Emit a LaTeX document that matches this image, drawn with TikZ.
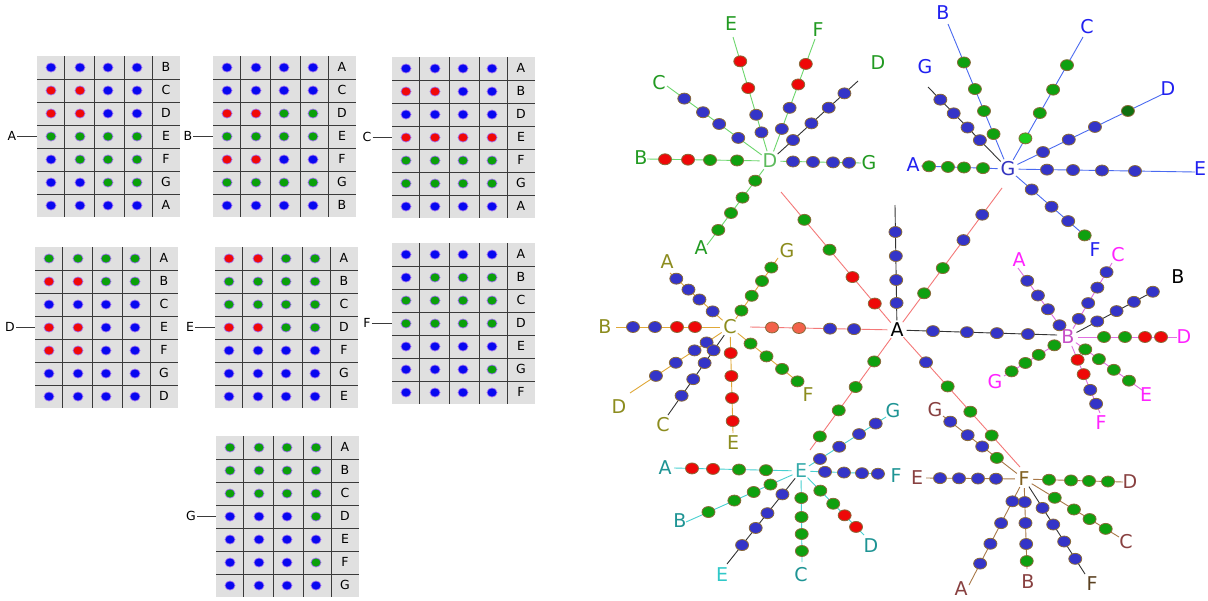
\documentclass[tikz,border=0pt]{standalone}
\usepackage{fontspec}
\setmainfont{DejaVu Sans}
\usetikzlibrary{shapes.geometric,calc}
\pgfdeclarelayer{back}
\pgfdeclarelayer{bg}
\pgfsetlayers{back,bg,main}

\definecolor{cB}{HTML}{3434C8}
\definecolor{cG}{HTML}{0FA00F}
\definecolor{cR}{HTML}{EE0808}
\definecolor{cS}{HTML}{F2624A}
\definecolor{cLG}{HTML}{1ECC1E}
\definecolor{cDG}{HTML}{107010}
\definecolor{lB}{HTML}{0808F0}
\definecolor{lG}{HTML}{0AA00A}
\definecolor{lR}{HTML}{F00808}
\definecolor{rdotline}{HTML}{8A6A3A}
\definecolor{ldotline}{HTML}{A070F0}
\definecolor{gridgray}{HTML}{E0E0E0}
\definecolor{gridline}{HTML}{3A3A3A}
\definecolor{lnRc}{HTML}{F47878}
\definecolor{lnDc}{HTML}{6CD66C}
\definecolor{lnGc}{HTML}{4A6AF0}
\definecolor{lnCc}{HTML}{E0A838}
\definecolor{lnBc}{HTML}{E070E0}
\definecolor{lnEc}{HTML}{48D0D0}
\definecolor{lnFc}{HTML}{A87848}
\definecolor{lnKc}{HTML}{333333}
\definecolor{tD}{HTML}{229A22}
\definecolor{thD}{HTML}{5DBB5D}
\definecolor{tG}{HTML}{2020F0}
\definecolor{thG}{HTML}{3535C0}
\definecolor{tC}{HTML}{8C8C1E}
\definecolor{tB}{HTML}{FF22FF}
\definecolor{thB}{HTML}{C850C8}
\definecolor{tE}{HTML}{1E9494}
\definecolor{tEE}{HTML}{30C8C8}
\definecolor{thE}{HTML}{35AAAA}
\definecolor{tF}{HTML}{884040}
\definecolor{tFF}{HTML}{5A4020}
\definecolor{thF}{HTML}{806020}

\newcommand\myray[5]{%
  \coordinate (#1e) at (#3);
  \begin{pgfonlayer}{bg}\draw[#4] (#2) -- (#1e);\end{pgfonlayer}
  \foreach \x/\y/\cc [count=\i] in {#5}{\node[rdot,fill=\cc] (#1d\i) at ($(#2)!(\x,\y)!(#1e)$) {};}%
}

\newcommand\mygrid[5]{%
  \node[gridbg,anchor=north west] (#1) at (#2,#3) {};
  \foreach \cx in {27,57,87,115}{\draw[gl] (#2+\cx,#3) -- (#2+\cx,#3+161);}
  \foreach \ry in {23,46,69,92,115,138}{\draw[gl] (#2,#3+\ry) -- (#2+143,#3+\ry);}
  \foreach \lt/\pa/\pb/\pc/\pd [count=\r] in {#5}{%
    \pgfmathsetmacro\yy{#3+11.5+23*(\r-1)}%
    \node[ldot,fill=\pa] (#1-\r-a) at (#2+14,\yy) {};
    \node[ldot,fill=\pb] (#1-\r-b) at (#2+43,\yy) {};
    \node[ldot,fill=\pc] (#1-\r-c) at (#2+71,\yy) {};
    \node[ldot,fill=\pd] (#1-\r-d) at (#2+100,\yy) {};
    \node[glab] (#1-\r-l) at (#2+129,\yy-1) {\lt};
  }
  \node[glab] (#1lab) at (#2-25,#3+80) {#4};
  \draw[gl] (#1lab.east) -- (#1lab.east -| #1.west);
}

\begin{document}
\begin{tikzpicture}[x=1pt,y=-1pt,
  rdot/.style={ellipse,draw=rdotline,line width=0.8pt,minimum width=13pt,minimum height=11pt,inner sep=0pt},
  ldot/.style={ellipse,draw=ldotline,line width=0.7pt,minimum width=10pt,minimum height=9pt,inner sep=0pt},
  hub/.style={circle,inner sep=0pt,font=\fontsize{19}{19}\selectfont},
  lab/.style={inner sep=0pt,font=\fontsize{19}{19}\selectfont},
  glab/.style={inner sep=1pt,font=\fontsize{12.5}{12.5}\selectfont},
  gridbg/.style={fill=gridgray,draw=none,minimum width=143pt,minimum height=161pt,inner sep=0pt},
  gl/.style={draw=gridline,line width=0.8pt},
  lnR/.style={draw=lnRc,line width=0.9pt},
  lnD/.style={draw=lnDc,line width=0.9pt},
  lnG/.style={draw=lnGc,line width=0.9pt},
  lnC/.style={draw=lnCc,line width=0.9pt},
  lnB/.style={draw=lnBc,line width=0.9pt},
  lnE/.style={draw=lnEc,line width=0.9pt},
  lnF/.style={draw=lnFc,line width=0.9pt},
  lnK/.style={draw=lnKc,line width=0.9pt}]
\useasboundingbox (0,0) rectangle (1208,600);
\begin{pgfonlayer}{back}\fill[white] (0,0) rectangle (1208,600);\end{pgfonlayer}

% ---------- grids ----------
\mygrid{gA}{37}{56}{A}{B/lB/lB/lB/lB, C/lR/lR/lB/lB, D/lR/lR/lB/lB, E/lG/lG/lG/lG, F/lB/lG/lG/lG, G/lB/lB/lG/lG, A/lB/lB/lB/lB}
\mygrid{gB}{213}{56}{B}{A/lB/lB/lB/lB, C/lB/lB/lB/lB, D/lR/lR/lG/lG, E/lG/lG/lG/lG, F/lR/lR/lB/lB, G/lG/lG/lG/lG, B/lB/lB/lB/lB}
\mygrid{gC}{392}{57}{C}{A/lB/lB/lB/lB, B/lR/lR/lB/lB, D/lB/lB/lB/lB, E/lR/lR/lR/lR, F/lG/lG/lG/lG, G/lG/lG/lG/lG, A/lB/lB/lB/lB}
\mygrid{gD}{35}{247}{D}{A/lG/lG/lG/lG, B/lR/lR/lG/lG, C/lB/lB/lB/lB, E/lR/lR/lB/lB, F/lR/lR/lB/lB, G/lB/lB/lB/lB, D/lB/lB/lB/lB}
\mygrid{gE}{215}{247}{E}{A/lR/lR/lG/lG, B/lG/lG/lG/lG, C/lG/lG/lG/lG, D/lR/lR/lG/lG, F/lB/lB/lB/lB, G/lB/lB/lB/lB, E/lB/lB/lB/lB}
\mygrid{gF}{392}{243}{F}{A/lB/lB/lB/lB, B/lB/lG/lG/lG, C/lG/lG/lG/lG, D/lG/lG/lG/lG, E/lB/lB/lB/lB, G/lB/lB/lB/lG, F/lB/lB/lB/lB}
\mygrid{gG}{216}{436}{G}{A/lG/lG/lG/lG, B/lG/lG/lG/lG, C/lG/lG/lG/lG, D/lB/lB/lB/lG, E/lB/lB/lB/lB, F/lB/lB/lB/lG, G/lB/lB/lB/lB}

% ---------- hubs ----------
\node[hub,text=black] (hA) at (897,330) {A};
\node[hub,text=thD] (hD) at (770,161) {D};
\node[hub,text=thG] (hG) at (1008,169) {G};
\node[hub,text=tC] (hC) at (730,327) {C};
\node[hub,text=thB] (hB) at (1068,337) {B};
\node[hub,text=thE] (hE) at (801,471) {E};
\node[hub,text=thF] (hF) at (1024,479) {F};

% ---------- spokes from A ----------
\myray{AA}{hA}{895,205}{lnK}{895/232/cB,895/256/cB,895/280/cB,895/303/cB}
\myray{AD}{hA}{781,192}{lnR}{803/221/cG,828/251/cG,849/280/cR,873/305/cR}
\myray{AG}{hA}{1002,188}{lnR}{980/213/cB,962/239/cB,940/266/cG,921/291/cG}
\myray{AC}{hA}{750,327}{lnR}{772/327/cS,799/328/cS,830/328/cB,854/329/cB}
\myray{AB}{hA}{1057,335}{lnK}{933/329/cB,967/330/cB,997/331/cB,1028/332/cB}
\myray{AE}{hA}{810,450}{lnR}{875/362/cG,857/388/cG,841/412/cG,822/438/cG}
\myray{AF}{hA}{1020,467}{lnR}{923/365/cB,947/387/cG,970/412/cG,990/437/cG}

% ---------- D ----------
\myray{DE}{hD}{733,37}{lnD}{738/62/cR,745/89/cR,752/116/cB,756/134/cB}
\myray{DF}{hD}{815,39}{lnD}{806/64/cR,797/84/cR,790/108/cB,782/129/cB}
\myray{DD}{hD}{858,81}{lnK}{845/94/cB,829/108/cB,812/124/cB,793/140/cB}
\myray{DC}{hD}{667,86}{lnD}{684/99/cB,701/115/cB,717/127/cB,736/141/cB}
\myray{DB}{hD}{647,159}{lnD}{665/160/cR,688/161/cR,710/162/cG,737/164/cG}
\myray{DG}{hD}{861,163}{lnD}{793/162/cB,813/162/cB,833/163/cB,849/164/cB}
\myray{DA}{hD}{707,245}{lnD}{717/229/cG,731/213/cG,743/198/cG,757/182/cG}
\node[lab,text=tD] (lDE) at (731,24) {E};
\node[lab,text=tD] (lDF) at (818,30) {F};
\node[lab,text=tD] (lDD) at (878,63) {D};
\node[lab,text=tD] (lDC) at (659,83) {C};
\node[lab,text=tD] (lDB) at (641,158) {B};
\node[lab,text=tD] (lDG) at (869,163) {G};
\node[lab,text=tD] (lDA) at (701,248) {A};

% ---------- G ----------
\myray{GB}{hG}{948,24}{lnG}{965/62/cG,975/89/cG,984/111/cG,996/133/cG}
\myray{GG}{hG}{928,87}{lnK}{941/99/cB,953/114/cB,967/128/cB,978/142/cB}
\myray{GC}{hG}{1083,37}{lnG}{1065/64/cG,1052/89/cG,1038/112/cG,1023/137/cLG}
\myray{GD}{hG}{1163,94}{lnG}{1127/109/cDG,1095/127/cB,1069/140/cB,1043/152/cB}
\myray{GE}{hG}{1195,172}{lnG}{1047/170/cB,1073/171/cB,1102/171/cB,1135/172/cB}
\myray{GA}{hG}{921,166}{lnG}{929/166/cG,948/166/cG,964/167/cG,983/167/cG}
\myray{GF}{hG}{1090,240}{lnG}{1033/188/cB,1053/205/cB,1070/219/cB,1085/235/cG}
\node[lab,text=tG] (lGB) at (943,13) {B};
\node[lab,text=tG] (lGG) at (925,67) {G};
\node[lab,text=tG] (lGC) at (1087,27) {C};
\node[lab,text=tG] (lGD) at (1168,89) {D};
\node[lab,text=tG] (lGE) at (1200,169) {E};
\node[lab,text=tG] (lGA) at (913,165) {A};
\node[lab,text=tG] (lGF) at (1095,250) {F};

% ---------- C ----------
\myray{CA}{hC}{670,273}{lnC}{676/279/cB,689/289/cB,699/300/cB,713/311/cB}
\myray{CG}{hC}{778,258}{lnC}{772/268/cG,762/281/cG,752/296/cG,742/311/cG}
\myray{CB}{hC}{616,327}{lnC}{633/327/cB,655/327/cB,677/327/cR,695/328/cR}
\myray{CD}{hC}{630,393}{lnC}{656/376/cB,676/363/cB,693/348/cB,705/340/cB}
\myray{CC}{hC}{668,415}{lnK}{682/396/cB,693/379/cB,706/364/cB,716/352/cB}
\myray{CE}{hC}{733,433}{lnC}{733/353/cR,733/376/cR,733/398/cR,734/421/cR}
\myray{CF}{hC}{802,385}{lnC}{751/343/cG,766/357/cG,782/369/cG,797/382/cG}
\node[lab,text=tC] (lCA) at (667,262) {A};
\node[lab,text=tC] (lCG) at (787,251) {G};
\node[lab,text=tC] (lCB) at (605,327) {B};
\node[lab,text=tC] (lCD) at (619,407) {D};
\node[lab,text=tC] (lCC) at (663,425) {C};
\node[lab,text=tC] (lCE) at (733,443) {E};
\node[lab,text=tC] (lCF) at (808,395) {F};

% ---------- B ----------
\myray{BA}{hB}{1018,268}{lnB}{1027/281/cB,1040/294/cB,1051/307/cB,1064/322/cB}
\myray{BC}{hB}{1112,263}{lnB}{1108/273/cB,1098/288/cB,1088/303/cB,1079/319/cB}
\myray{BB}{hB}{1158,289}{lnK}{1153/292/cB,1134/302/cB,1116/310/cB,1097/321/cB}
\myray{BD}{hB}{1177,337}{lnB}{1104/337/cG,1125/337/cG,1145/337/cR,1161/338/cR}
\myray{BE}{hB}{1142,390}{lnB}{1087/347/cG,1099/359/cG,1113/371/cG,1128/382/cG}
\myray{BF}{hB}{1100,413}{lnB}{1077/360/cR,1084/374/cR,1090/390/cB,1098/403/cB}
\myray{BG}{hB}{1004,376}{lnB}{1012/372/cG,1026/364/cG,1040/357/cG,1056/348/cG}
\node[lab,text=tB] (lBA) at (1019,260) {A};
\node[lab,text=tB] (lBC) at (1118,255) {C};
\node[lab,text=black] (lBB) at (1178,277) {B};
\node[lab,text=tB] (lBD) at (1184,337) {D};
\node[lab,text=tB] (lBE) at (1146,395) {E};
\node[lab,text=tB] (lBF) at (1101,423) {F};
\node[lab,text=tB] (lBG) at (995,382) {G};

% ---------- E ----------
\myray{EA}{hE}{674,468}{lnE}{692/468/cR,713/468/cR,739/469/cG,766/470/cG}
\myray{EG}{hE}{886,417}{lnE}{876/424/cB,859/434/cB,840/448/cB,820/459/cB}
\myray{EF}{hE}{885,474}{lnE}{825/472/cB,844/472/cB,862/473/cB,878/473/cB}
\myray{EB}{hE}{686,522}{lnE}{708/511/cG,735/502/cG,755/495/cG,772/488/cG}
\myray{EE}{hE}{727,564}{lnK}{742/545/cB,757/529/cB,771/516/cB,787/498/cB}
\myray{EC}{hE}{802,562}{lnE}{803/498/cG,803/517/cG,802/534/cG,802/551/cG}
\myray{ED}{hE}{864,535}{lnE}{823/488/cG,835/502/cG,846/514/cR,857/526/cR}
\node[lab,text=tE] (lEA) at (665,468) {A};
\node[lab,text=tE] (lEG) at (893,411) {G};
\node[lab,text=tE] (lEF) at (896,476) {F};
\node[lab,text=tE] (lEB) at (680,521) {B};
\node[lab,text=tEE] (lEE) at (722,575) {E};
\node[lab,text=tE] (lEC) at (801,575) {C};
\node[lab,text=tE] (lED) at (871,546) {D};

% ---------- F ----------
\myray{FG}{hF}{943,416}{lnF}{950/422/cB,967/436/cB,981/448/cB,996/459/cG}
\myray{FE}{hF}{926,478}{lnF}{940/479/cB,959/478/cB,978/479/cB,996/479/cB}
\myray{FD}{hF}{1123,482}{lnF}{1049/480/cG,1071/480/cG,1089/481/cG,1108/482/cG}
\myray{FC}{hF}{1119,537}{lnF}{1054/499/cG,1073/511/cG,1089/520/cG,1105/530/cG}
\myray{FF}{hF}{1085,574}{lnK}{1044/507/cB,1054/524/cB,1065/541/cB,1075/559/cB}
\myray{FB}{hF}{1027,569}{lnF}{1026/502/cB,1026/523/cB,1026/544/cB,1028/561/cG}
\myray{FA}{hF}{969,585}{lnF}{1006/498/cB,997/521/cB,987/542/cB,977/562/cB}
\node[lab,text=tF] (lFG) at (935,410) {G};
\node[lab,text=tF] (lFE) at (917,478) {E};
\node[lab,text=tF] (lFD) at (1130,482) {D};
\node[lab,text=tF] (lFC) at (1126,542) {C};
\node[lab,text=tFF] (lFF) at (1092,584) {F};
\node[lab,text=tF] (lFB) at (1028,582) {B};
\node[lab,text=tF] (lFA) at (961,589) {A};
\end{tikzpicture}
\end{document}
